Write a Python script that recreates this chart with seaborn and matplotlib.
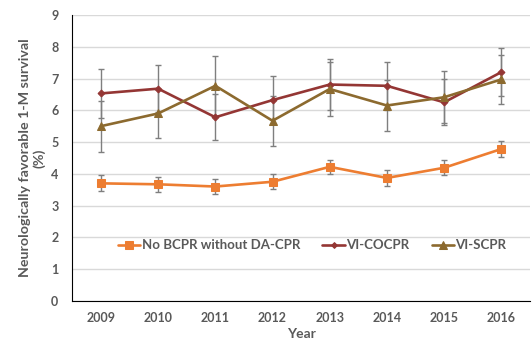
import matplotlib
matplotlib.use("Agg")
import matplotlib.pyplot as plt
import seaborn as sns
import pandas as pd
import numpy as np

years = [2009, 2010, 2011, 2012, 2013, 2014, 2015, 2016]
no_bcpr = [3.70, 3.67, 3.60, 3.75, 4.22, 3.87, 4.19, 4.78]
no_bcpr_err = [0.25, 0.24, 0.24, 0.24, 0.23, 0.24, 0.24, 0.24]
vi_cocpr = [6.53, 6.68, 5.78, 6.32, 6.81, 6.77, 6.25, 7.20]
vi_cocpr_err = [0.77, 0.74, 0.72, 0.76, 0.80, 0.75, 0.72, 0.76]
vi_scpr = [5.50, 5.90, 6.77, 5.67, 6.67, 6.15, 6.41, 6.97]
vi_scpr_err = [0.80, 0.77, 0.95, 0.79, 0.85, 0.80, 0.82, 0.78]

series = ["No BCPR without DA-CPR", "VI-COCPR", "VI-SCPR"]
colors = ["#ED7D31", "#943634", "#8C6A2F"]
markers = ["s", "D", "^"]
msizes = [6, 3.5, 6]

df = pd.concat([
    pd.DataFrame({"Year": years, "value": v, "err": e, "series": s})
    for s, v, e in zip(series, [no_bcpr, vi_cocpr, vi_scpr],
                       [no_bcpr_err, vi_cocpr_err, vi_scpr_err])
])

sns.set_style("white")
plt.rcParams["font.family"] = ["Lato", "DejaVu Sans"]
txt = "#595959"

fig = plt.figure(figsize=(5.32, 3.40), dpi=100)
ax = fig.add_axes([0.136, 0.115, 0.860, 0.841])

# error bars first, underneath the lines
for s in series:
    d = df[df["series"] == s]
    ax.errorbar(d["Year"], d["value"], yerr=d["err"], fmt="none",
                ecolor="#7f7f7f", elinewidth=1.0, capsize=2.5, capthick=1.0, zorder=2)

for s, c, m, ms in zip(series, colors, markers, msizes):
    d = df[df["series"] == s]
    sns.lineplot(data=d, x="Year", y="value", color=c, marker=m, markersize=ms,
                 markeredgecolor=c, linewidth=1.9, label=s, ax=ax, zorder=3)

ax.set_xlim(2008.5, 2016.5)
ax.set_ylim(0, 9)
ax.set_yticks(range(0, 10))
ax.set_xticks([y - 0.5 for y in years] + [years[-1] + 0.5])
ax.set_xticklabels([])
ax.set_xticks(years, minor=True)
ax.set_xticklabels([str(y) for y in years], minor=True)
ax.tick_params(axis="x", which="major", length=4, width=1, color="black", direction="out")
ax.tick_params(axis="x", which="minor", length=0, pad=8, labelsize=9, labelcolor=txt)
ax.tick_params(axis="y", length=4, width=1, color="black", direction="out",
               labelsize=9, labelcolor=txt, pad=6)
for lab in ax.get_xticklabels(minor=True) + ax.get_yticklabels():
    lab.set_fontweight("bold")

ax.yaxis.grid(True, color="#d9d9d9", linewidth=1.0)
ax.set_axisbelow(True)
for sp in ["top", "right"]:
    ax.spines[sp].set_visible(False)
ax.spines["left"].set_color("black")
ax.spines["bottom"].set_color("black")

ax.set_xlabel("Year", fontsize=10, fontweight="bold", color=txt, labelpad=3)
ax.set_ylabel("Neurologically favorable 1-M survival\n(%)", fontsize=10.3,
              fontweight="bold", color=txt, labelpad=4)

leg = ax.legend(loc="center", bbox_to_anchor=(0.524, 0.195), ncol=3, frameon=False,
                fontsize=9.5, handlelength=1.7, handletextpad=0.1, columnspacing=1.7,
                markerscale=0.85)
for t in leg.get_texts():
    t.set_color(txt)
    t.set_fontweight("bold")

fig.savefig("out.png", dpi=100)
